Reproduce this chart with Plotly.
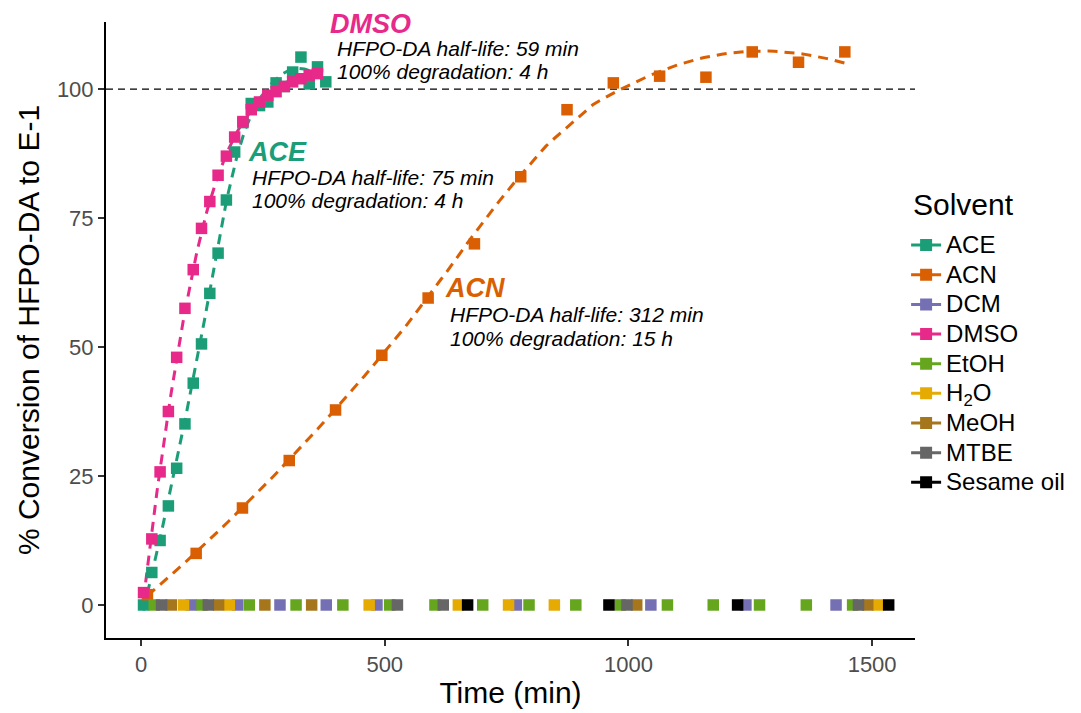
import numpy as np
import plotly.graph_objects as go

# ---------------- data ----------------
solvents = ["ACE", "ACN", "DCM", "DMSO", "EtOH", "H2O", "MeOH", "MTBE", "Sesame oil"]
legend_labels = ["ACE", "ACN", "DCM", "DMSO", "EtOH", "H<sub>2</sub>O", "MeOH", "MTBE", "Sesame oil"]
legend_title = "Solvent"
colors = ["#1B9E77", "#D95F02", "#7570B3", "#E7298A", "#66A61E", "#E6AB02", "#A6761D", "#666666", "#000000"]

ace_time = [5, 22, 39, 56, 73, 90, 107, 124, 141, 158, 175, 192, 209, 226, 243, 260, 277, 294, 311, 328, 345, 362, 379]
ace_conv = [0, 6.3, 12.5, 19.2, 26.5, 35.1, 43, 50.6, 60.4, 68.2, 78.5, 87.8, 93.5, 97.2, 96.8, 97.5, 101.2, 100.5, 103.3, 106.2, 101, 104.3, 101.4]

dmso_time = [5, 22, 39, 56, 73, 90, 107, 124, 141, 158, 175, 192, 209, 226, 243, 260, 277, 294, 311, 328, 345, 362]
dmso_conv = [2.4, 12.8, 25.8, 37.5, 48, 57.5, 65, 73, 78.2, 83.3, 87, 90.7, 93.7, 96, 97.5, 98.8, 99.5, 100.5, 101.4, 102, 102.7, 103]

acn_time = [13, 113, 208, 304, 399, 494, 589, 684, 779, 874, 969, 1064, 1159, 1254, 1349, 1444]
acn_conv = [2, 10, 18.8, 28, 37.8, 48.4, 59.5, 70, 83, 96, 101.2, 102.5, 102.3, 107.2, 105.2, 107.2]

etoh_time = [27, 125, 222, 318, 414, 510, 603, 701, 796, 892, 983, 1080, 1174, 1269, 1365, 1460]
mtbe_time = [42, 138, 526, 620, 997, 1472]
meoh_time = [62, 159, 254, 350, 1017, 1491]
h2o_time = [87, 181, 468, 651, 754, 848, 1512]
dcm_time = [103, 198, 285, 380, 484, 770, 1046, 1241, 1426]
sesame_time = [670, 960, 1224, 1534]

annot_solvent = ["DMSO", "ACE", "ACN"]
annot_halflife = ["59 min", "75 min", "312 min"]
annot_full = ["4 h", "4 h", "15 h"]

x_ticks = [0, 500, 1000, 1500]
y_ticks = [0, 25, 50, 75, 100]

# ---------------- helpers ----------------
def loess(x, y, xs, span=0.75):
    x = np.asarray(x, float); y = np.asarray(y, float)
    n = len(x); q = int(np.floor(n * span))
    out = []
    for x0 in xs:
        d = np.abs(x - x0)
        h = np.sort(d)[q - 1]
        w = np.clip(1 - (d / h) ** 3, 0, None) ** 3
        X = np.vstack([np.ones(n), x - x0, (x - x0) ** 2]).T
        W = np.diag(w)
        beta = np.linalg.pinv(X.T @ W @ X) @ X.T @ W @ y
        out.append(beta[0])
    return np.array(out)

FONT = "Liberation Sans, Arial, sans-serif"
col = dict(zip(solvents, colors))
fig = go.Figure()

# smooth curves
for name, t, v in [("ACE", ace_time, ace_conv), ("ACN", acn_time, acn_conv), ("DMSO", dmso_time, dmso_conv)]:
    xs = np.linspace(min(t), max(t), 120)
    fig.add_trace(go.Scatter(x=xs, y=loess(t, v, xs), mode="lines", showlegend=False,
                             line=dict(color=col[name], width=3, dash="10px,7px"), hoverinfo="skip"))

# points
series = {
    "ACE": (ace_time, ace_conv),
    "ACN": (acn_time, acn_conv),
    "DCM": (dcm_time, [0] * len(dcm_time)),
    "DMSO": (dmso_time, dmso_conv),
    "EtOH": (etoh_time, [0] * len(etoh_time)),
    "H2O": (h2o_time, [0] * len(h2o_time)),
    "MeOH": (meoh_time, [0] * len(meoh_time)),
    "MTBE": (mtbe_time, [0] * len(mtbe_time)),
    "Sesame oil": (sesame_time, [0] * len(sesame_time)),
}
for name in solvents:
    t, v = series[name]
    fig.add_trace(go.Scatter(x=t, y=v, mode="markers", showlegend=False,
                             marker=dict(symbol="square", size=11.5, color=col[name], line=dict(width=0))))

# legend entries
for name, lab in zip(solvents, legend_labels):
    fig.add_trace(go.Scatter(x=[None], y=[None], mode="lines+markers",
                             name=f'<span style="font-size:24px">{lab}</span>',
                             line=dict(color=col[name], width=3),
                             marker=dict(symbol="square", size=12, color=col[name])))

# reference line at 100
fig.add_shape(type="line", xref="paper", x0=0, x1=1, yref="y", y0=100, y1=100,
              line=dict(color="black", width=1.3, dash="7px,5px"), layer="below")

# legend title
fig.add_annotation(xref="paper", yref="paper", x=0.9955, y=0.703, text=legend_title, showarrow=False,
                   xanchor="left", yanchor="middle", font=dict(family=FONT, size=30, color="black"))

# annotations
annot_pos = {"DMSO": (384, 112.6, 398, 107.8, 103.5),
             "ACE": (215, 87.8, 224, 82.8, 78.4),
             "ACN": (620, 61.5, 630, 56.4, 51.7)}
for s, hl, fd in zip(annot_solvent, annot_halflife, annot_full):
    xl, yl, xt, y1, y2 = annot_pos[s]
    fig.add_annotation(x=xl, y=yl, text=f"<b><i>{s}</i></b>", showarrow=False, xanchor="left", yanchor="middle",
                       font=dict(family=FONT, size=27, color=col[s]))
    fig.add_annotation(x=xt, y=y1, text=f"<i>HFPO-DA half-life: {hl}</i>", showarrow=False, xanchor="left",
                       yanchor="middle", font=dict(family=FONT, size=21, color="black"))
    fig.add_annotation(x=xt, y=y2, text=f"<i>100% degradation: {fd}</i>", showarrow=False, xanchor="left",
                       yanchor="middle", font=dict(family=FONT, size=21, color="black"))

fig.update_layout(
    width=1073, height=705,
    margin=dict(l=98, r=166, t=14, b=75, autoexpand=False),
    paper_bgcolor="white", plot_bgcolor="white",
    font=dict(family=FONT, color="black"),
    showlegend=True,
    legend=dict(font=dict(size=20.5),
                x=0.989, xanchor="left", y=0.670, yanchor="top", tracegroupgap=0,
                itemwidth=30, bgcolor="rgba(0,0,0,0)"),
    xaxis=dict(range=[-72, 1588], tickvals=x_ticks, showgrid=False, zeroline=False,
               showline=True, linecolor="black", linewidth=2, ticks="outside", ticklen=6,
               tickcolor="#333333", tickwidth=1.5,
               tickfont=dict(size=22, color="#4D4D4D"),
               title=dict(text="Time (min)", font=dict(size=30, color="black"), standoff=6)),
    yaxis=dict(range=[-6.4, 113], tickvals=y_ticks, showgrid=False, zeroline=False,
               showline=True, linecolor="black", linewidth=2, ticks="outside", ticklen=6,
               tickcolor="#333333", tickwidth=1.5,
               tickfont=dict(size=22, color="#4D4D4D"),
               title=dict(text="% Conversion of HFPO-DA to E-1", font=dict(size=30, color="black"), standoff=8)),
)

fig.write_html("out.html")
